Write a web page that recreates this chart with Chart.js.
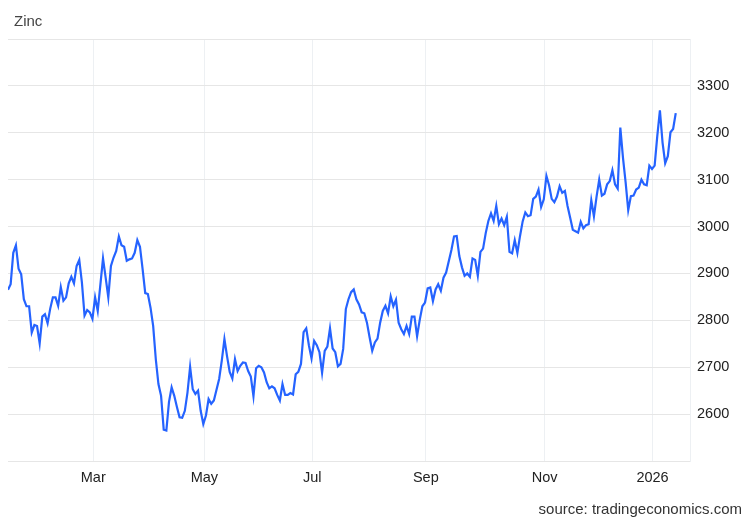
<!DOCTYPE html>
<html>
<head>
<meta charset="utf-8">
<title>Zinc</title>
<script src="https://cdn.jsdelivr.net/npm/chart.js@4.4.1/dist/chart.umd.min.js"></script>
<style>
    body { margin: 0; background: #fff; }
    #wrap { position: relative; width: 752px; height: 521px; font-family: 'Liberation Sans', Arial, Helvetica, sans-serif; }
    #title { position: absolute; left: 14px; top: 12px; font-size: 15px; line-height: 18px; color: #444; }
    #source { position: absolute; right: 10px; top: 500px; font-size: 15px; line-height: 18px; color: #333; }
    canvas { position: absolute; left: 0; top: 0; }
</style>
</head>
<body>
<div id="wrap">
    <canvas id="zincChart" width="752" height="521"></canvas>
    <div id="title">Zinc</div>
    <div id="source">source: tradingeconomics.com</div>
</div>
<script>
// Zinc price, one value per trading day (null = not read)
const prices = [
    2865, 2877, 2944, 2960, 2910, 2898, 2845, 2830, 2830, 2774,
    2790, 2788, 2751, 2808, 2813, 2794, 2825, 2849, 2849, 2831,
    2871, 2842, 2849, 2879, 2893, 2879, 2916, 2929, 2881, 2810,
    2822, 2817, 2803, 2849, 2820, null, 2932, 2891, 2849, 2916,
    2934, 2948, 2979, 2960, 2957, 2927, 2930, 2932, 2944, 2971,
    2957, 2909, 2858, 2856, 2827, 2788, 2717, 2664, 2639, 2567,
    2565, 2626, 2657, 2639, 2615, 2593, 2592, 2607, 2646, 2701,
    2653, 2643, 2650, 2607, 2579, 2597, 2632, 2622, 2629, 2652,
    2675, 2714, 2760, 2723, 2690, 2676, 2717, 2692, 2703, 2710,
    2709, 2692, 2680, 2638, 2698, 2703, 2700, 2689, 2668, 2655,
    2659, 2655, 2641, 2629, 2664, 2641, 2641, 2645, 2642, 2685,
    2690, 2707, 2775, 2783, 2747, 2719, 2756, 2747, 2732, 2688,
    2735, 2744, 2783, 2740, 2732, 2702, 2707, 2739, 2824, 2845,
    2860, 2866, 2845, 2834, 2817, 2815, 2795, 2764, 2735, 2753,
    2761, 2795, 2820, 2831, 2815, 2851, 2830, 2844, 2795, 2781,
    2771, 2788, 2771, 2808, 2808, 2766, 2801, 2830, 2838, 2868,
    2870, 2841, 2866, 2877, 2863, 2891, 2902, null, 2950, 2979,
    2980, 2937, 2913, 2895, 2900, 2893, 2932, 2929, 2895, 2946,
    2953, 2986, 3012, 3028, 3012, 3044, 3005, 3017, 3003, 3021,
    2946, 2943, 2971, 2944, 2980, 3011, 3030, 3022, 3024, 3059,
    3064, 3079, 3042, 3058, 3108, 3088, 3059, 3052, 3064, 3086,
    3072, 3076, 3044, 3019, 2993, 2990, 2987, 3010, 2996, 3003,
    3005, 3056, 3022, 3064, 3100, 3066, 3070, 3090, 3097, 3120,
    3090, 3081, 3211, 3147, 3095, 3035, 3065, 3066, 3079, 3083,
    3100, 3090, 3088, 3130, 3123, 3130, 3193, 3248, 3179, 3135,
    3150, 3201, 3208, 3242
];

// Month labels and where they sit on the trading-day axis
const tickLabels = ['Mar', 'May', 'Jul', 'Sep', 'Nov', '2026'];
const tickDays = [32.3, 74.4, 115.3, 158.3, 203.3, 244.2];

const axisDays = 258.4;
const yMin = 2500;
const yMax = 3400;

const tickFont = { family: "'Liberation Sans', Arial, Helvetica, sans-serif", size: 14.5 };

function initializeChart() {
    const ctx = document.getElementById('zincChart').getContext('2d');
    new Chart(ctx, {
        type: 'line',
        data: {
            datasets: [{
                label: 'Zinc',
                data: prices.map((v, i) => ({ x: i, y: v })),
                borderColor: '#2563ff',
                borderWidth: 2.2,
                pointRadius: 0,
                tension: 0,
                spanGaps: true,
                fill: false
            }]
        },
        options: {
            responsive: false,
            animation: false,
            layout: { padding: { top: 39, left: 8, right: 0, bottom: 0 } },
            plugins: {
                legend: { display: false },
                tooltip: { enabled: false }
            },
            scales: {
                x: {
                    type: 'linear',
                    min: 0,
                    max: axisDays,
                    afterBuildTicks: scale => {
                        scale.ticks = tickDays.map(v => ({ value: v }));
                    },
                    afterFit: scale => {
                        scale.height = 60;
                        scale.paddingLeft = 0;
                        scale.paddingRight = 0;
                    },
                    ticks: {
                        autoSkip: false,
                        maxRotation: 0,
                        padding: 8,
                        color: '#222',
                        font: tickFont,
                        callback: (value, index) => tickLabels[index]
                    },
                    grid: { color: '#edf0f3', drawTicks: false },
                    border: { display: false }
                },
                y: {
                    position: 'right',
                    min: yMin,
                    max: yMax,
                    afterFit: scale => {
                        scale.width = 62;
                        scale.paddingTop = 0;
                        scale.paddingBottom = 0;
                    },
                    ticks: {
                        stepSize: 100,
                        padding: 7,
                        color: '#222',
                        font: tickFont,
                        callback: value => (value === yMin || value === yMax) ? '' : value
                    },
                    grid: { color: '#e6e6e6', drawTicks: false },
                    border: { display: true, color: '#edf0f3' }
                }
            }
        }
    });
}

window.onload = initializeChart;
</script>
</body>
</html>
